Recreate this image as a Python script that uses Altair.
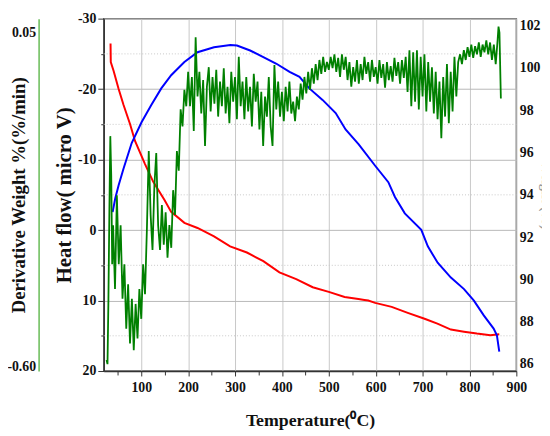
import altair as alt
import pandas as pd

# ---------------- data ----------------
red_temp = [34.5, 35.0, 41.1, 51.6, 62.1, 76.2, 86.7, 107.8, 125.3, 149.9, 163.8, 192.0,
            220.0, 255.2, 289.5, 325.3, 360.4, 394.7, 430.5, 465.7, 500.0, 533.7, 563.2,
            576.0, 584.2, 598.9, 634.1, 668.4, 704.2, 731.6, 760.4, 788.4, 815.8, 844.6, 863.6]
red_weight = [101.15, 100.27, 99.85, 99.01, 98.25, 97.33, 96.54, 95.46, 94.62, 93.74, 93.19, 92.67,
              92.43, 92.03, 91.56, 91.27, 90.86, 90.33, 90.01, 89.63, 89.41, 89.17, 89.07,
              89.03, 89.00, 88.89, 88.70, 88.42, 88.14, 87.91, 87.63, 87.53, 87.44, 87.36, 87.41]

blue_temp = [38.9, 44.6, 51.6, 62.1, 79.6, 100.6, 121.7, 142.7, 163.8, 192.0, 220.0, 255.2,
             290.1, 304.2, 332.2, 360.4, 388.4, 416.4, 437.5, 458.5, 486.7, 514.7, 535.8,
             563.8, 598.9, 627.0, 641.1, 662.1, 697.3, 711.2, 732.2, 760.4, 788.4, 809.5,
             830.5, 851.6, 858.5, 863.6]
blue_heat = [-2.55, -4.51, -6.33, -8.71, -12.35, -15.29, -17.77, -20.10, -21.97, -23.84, -25.24, -25.94,
             -26.26, -26.18, -25.48, -24.54, -23.60, -22.44, -21.74, -20.10, -18.47, -16.60, -14.27,
             -12.17, -9.13, -6.79, -4.69, -2.37, -0.03, 2.31, 4.64, 6.74, 8.38, 10.01,
             12.11, 13.98, 14.92, 17.24]

green_temp = [26, 28, 30, 32, 34, 36, 38, 40,
              44, 48, 52, 56, 60, 64, 68, 72, 76, 80, 84, 88, 92, 96, 100, 104, 108, 112, 116, 120,
              124, 128, 132, 136, 140, 144, 148, 152, 156, 160, 164, 168, 172, 176, 180, 184, 188,
              192, 196,
              200, 204, 208, 212, 216, 220, 224, 228, 232, 236, 240, 244, 248, 252, 256, 260, 264,
              268, 272, 276, 280, 284, 288, 292, 296, 300, 304, 308, 312, 316, 320, 324, 328, 332,
              336, 340, 344, 348, 352, 356, 360, 364, 368, 372, 376, 380, 384, 388, 392, 396, 400,
              404, 408, 412, 416, 420, 424, 428, 432, 436, 440, 444, 448, 452, 456, 460, 464, 468,
              472, 476, 480, 484, 488, 492, 496, 500, 504, 508, 512, 516, 520, 524, 528, 532,
              536, 540, 544, 548, 552, 556, 560, 564, 568, 572, 576, 580, 584, 588, 592, 596, 600,
              604, 608, 612, 616, 620, 624, 628, 632, 636, 640, 644, 648, 652, 656, 660, 664, 668,
              672, 676, 680, 684, 688, 692, 696, 700, 704, 708, 712, 716, 720, 724, 728, 732, 736,
              740, 744, 748, 752, 756, 760, 764, 768, 772, 776, 780, 784, 788, 792, 796, 800, 804,
              808, 812, 816, 820, 824, 828, 832, 836, 840, 844, 848, 852, 856, 860,
              862, 864, 867]
green_deriv = [-0.587, -0.595, -0.468, -0.296, -0.152, -0.229, -0.401, -0.325,
               -0.449, -0.267, -0.401, -0.325, -0.468, -0.401, -0.526, -0.440, -0.555, -0.468,
               -0.568, -0.478, -0.545, -0.449, -0.507, -0.401, -0.459, -0.334, -0.181, -0.305,
               -0.373, -0.248, -0.185, -0.325, -0.373, -0.286, -0.363, -0.300, -0.388, -0.325,
               -0.369, -0.257, -0.305, -0.181, -0.219, -0.100, -0.133, -0.062, -0.094,
               -0.027, -0.094, -0.037, -0.142, 0.040, -0.075, -0.027, -0.108, -0.043, -0.171,
               -0.056, -0.018, -0.104, -0.037, -0.089, -0.023, -0.114, -0.046, -0.094, -0.020,
               -0.108, -0.056, -0.127, -0.027, -0.085, -0.037, -0.119, 0.002, -0.094, -0.046,
               -0.119, -0.037, -0.104, -0.056, -0.133, -0.031, -0.085, -0.046, -0.139, -0.066,
               -0.171, -0.075, -0.114, -0.037, -0.133, -0.171, -0.014, -0.100, -0.046, -0.114,
               -0.066,
               -0.123, -0.056, -0.104, -0.046, -0.108, -0.085, -0.123, -0.075, -0.100, -0.050,
               -0.081, -0.037, -0.069, -0.027, -0.062, -0.020, -0.050, -0.012, -0.043, -0.004,
               -0.031, 0.002, -0.027, -0.008, -0.023, 0.002, -0.020, 0.007, -0.027, 0.000,
               -0.037, 0.007, -0.023,
               0.002, -0.043, -0.008, -0.056, -0.018, -0.046, -0.004, -0.050, -0.012, -0.043,
               0.002, -0.031, -0.008, -0.046, -0.004, -0.037, -0.018, -0.050, -0.004, -0.039,
               -0.012, -0.058, -0.008, -0.043, -0.016, -0.046, 0.000, -0.035, -0.008, -0.050,
               -0.004, -0.039, 0.002, -0.066,
               0.015, -0.094, 0.011, -0.085, 0.015, -0.100, 0.002, -0.075, 0.007, -0.104,
               -0.008, -0.085, -0.018, -0.108, -0.027, -0.119, -0.046, -0.156, -0.037, -0.114,
               -0.012, -0.127, -0.027, -0.104, 0.002, -0.075, -0.008, 0.007, -0.012, 0.015,
               -0.004, 0.021, 0.002, 0.026, 0.000, 0.023, 0.007, 0.030, 0.002, 0.026,
               0.011, 0.034, 0.007, 0.030, -0.004, 0.026, -0.012, 0.034,
               0.061, 0.049, -0.079]

x_major = [100, 200, 300, 400, 500, 600, 700, 800, 900]
x_minor = [50, 150, 250, 350, 450, 550, 650, 750, 850]
heat_major = [-30, -20, -10, 0, 10, 20]
heat_minor = [-25, -15, -5, 5, 15]
weight_ticks = [86, 88, 90, 92, 94, 96, 98, 100, 102]
deriv_ticks = [0.05, -0.60]

FONT = "Liberation Serif"
MINUS_FIX = "replace(datum.label, '\u2212', '-')"

red_df = pd.DataFrame({"temp": red_temp, "weight": red_weight})
blue_df = pd.DataFrame({"temp": blue_temp, "heat": blue_heat})
green_df = pd.DataFrame({"temp": green_temp, "deriv": green_deriv})

x_scale = alt.Scale(domain=[20, 900], nice=False, zero=False)
heat_scale = alt.Scale(domain=[-30, 20], reverse=True, nice=False, zero=False)
weight_scale = alt.Scale(domain=[85.67, 102.32], nice=False, zero=False)
deriv_scale = alt.Scale(domain=[-0.6084, 0.0763], nice=False, zero=False)

# dotted minor grid + minor ticks on the heat-flow axis
heat_minor_layer = alt.Chart(pd.DataFrame({"h": heat_minor})).mark_rule(
    color="#c8c8c8", strokeDash=[1, 2], strokeWidth=1
).encode(
    y=alt.Y("h:Q", scale=heat_scale,
            axis=alt.Axis(orient="left", values=heat_minor, labels=False, tickSize=3,
                          tickColor="#333", domain=False, grid=False, title=None))
)

# minor ticks on the temperature axis
x_minor_layer = alt.Chart(pd.DataFrame({"t": x_minor})).mark_rule(opacity=0).encode(
    x=alt.X("t:Q", scale=x_scale,
            axis=alt.Axis(orient="bottom", values=x_minor, labels=False, tickSize=4,
                          tickColor="#333", domain=False, grid=False, title=None))
)

red = alt.Chart(red_df).mark_line(color="#ff0000", strokeWidth=2).encode(
    x=alt.X("temp:Q", scale=x_scale, axis=None),
    y=alt.Y("weight:Q", scale=weight_scale,
            axis=alt.Axis(orient="right", values=weight_ticks, title="Weight (%)", tickSize=0,
                          labelPadding=3, domain=False, grid=False, titleX=23,
                          titleBaseline="bottom", titleColor="#999", titleFontSize=14)),
)

blue = alt.Chart(blue_df).mark_line(color="#0000ff", strokeWidth=2).encode(
    x=alt.X("temp:Q", scale=x_scale,
            axis=alt.Axis(orient="bottom", values=x_major, title="Temperature(\u2070C)", grid=True,
                          gridColor="#c8c8c8", tickSize=5, labelPadding=5, labelFlush=False,
                          domainColor="#333", domainWidth=1.5, tickColor="#333",
                          titleY=55, titleBaseline="alphabetic", titleFontSize=18)),
    y=alt.Y("heat:Q", scale=heat_scale,
            axis=alt.Axis(orient="left", values=heat_major, title="Heat flow( micro V)", grid=True,
                          gridColor="#b8b8b8", tickSize=6, labelPadding=2, labelExpr=MINUS_FIX,
                          titleX=-40, titleBaseline="middle", titleFontSize=21,
                          domainColor="#333", domainWidth=1.5, tickColor="#333")),
)

green = alt.Chart(green_df).mark_line(color="#008000", strokeWidth=1.8).encode(
    x=alt.X("temp:Q", scale=x_scale, axis=None),
    y=alt.Y("deriv:Q", scale=deriv_scale,
            axis=alt.Axis(orient="left", offset=66, values=deriv_ticks, format=".2f",
                          labelExpr=MINUS_FIX, title="Derivative Weight %(%/min)", tickSize=0,
                          labelPadding=3, domainColor="#66bb55", domainWidth=1.5, grid=False,
                          titleX=-20, titleBaseline="middle", titleFontSize=19)),
)

chart = alt.layer(heat_minor_layer, x_minor_layer, red, blue, green).resolve_scale(
    y="independent"
).resolve_axis(
    x="independent", y="independent"
).properties(
    width=418, height=357,
    autosize=alt.AutoSizeParams(type="none"),
    padding={"left": 97, "top": 8, "right": 26, "bottom": 60},
    background="white",
).configure_axis(
    labelFont=FONT, labelFontSize=14, labelFontWeight="bold", labelColor="#111",
    titleFont=FONT, titleFontWeight="bold", titleColor="#111",
).configure_view(
    stroke="#6e6e6e", strokeWidth=1.5
)

chart.save("out.html", embed_options={"renderer": "svg", "actions": False})
